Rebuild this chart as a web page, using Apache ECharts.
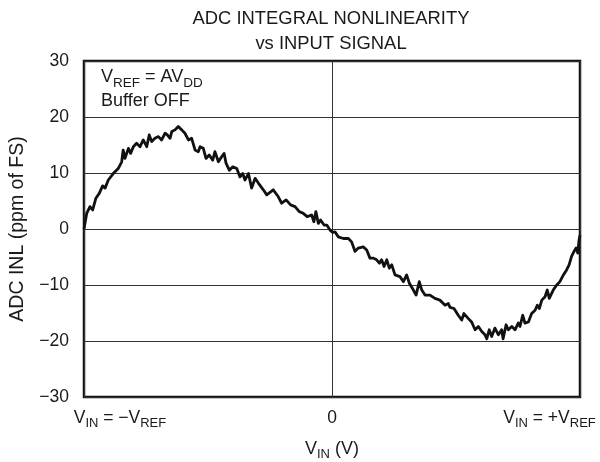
<!DOCTYPE html>
<html>
<head>
<meta charset="utf-8">
<script src="https://cdn.jsdelivr.net/npm/echarts@6/dist/echarts.min.js"></script>
<style>html,body{margin:0;padding:0;background:#fff}#c{width:600px;height:462px}</style>
</head>
<body>
<div id="c"></div>
<script>
// Input voltage as fraction of VREF (−1 … +1)
const vin = [
-1.000,-0.989,-0.976,-0.965,-0.952,-0.938,-0.925,-0.915,-0.902,-0.882,-0.862,-0.848,-0.842,-0.835,-0.821,-0.812,-0.801,-0.788,-0.774,-0.761,-0.747,-0.737,-0.727,-0.714,-0.700,-0.687,-0.673,-0.664,-0.653,-0.646,-0.633,-0.620,-0.606,-0.593,-0.579,-0.566,-0.552,-0.539,
-0.532,-0.519,-0.508,-0.495,-0.481,-0.472,-0.458,-0.445,-0.435,-0.427,-0.414,-0.400,-0.384,-0.371,-0.360,-0.351,-0.337,-0.324,-0.310,-0.297,-0.277,-0.263,-0.237,-0.217,-0.203,-0.185,-0.167,-0.149,-0.132,-0.116,-0.100,-0.082,-0.073,-0.065,-0.055,-0.046,-0.032,-0.021,-0.008,
0.003,0.012,0.025,0.046,0.066,0.079,0.093,0.106,0.126,0.140,0.153,0.167,0.180,0.191,0.200,0.210,0.221,0.231,0.241,0.254,0.274,0.288,0.301,0.312,0.328,0.339,0.352,0.362,0.375,0.395,0.415,0.435,0.456,0.469,
0.476,0.492,0.509,0.523,0.532,0.550,0.563,0.577,0.590,0.604,0.617,0.624,0.634,0.644,0.657,0.671,0.684,0.690,0.702,0.711,0.725,0.738,0.751,0.758,0.769,0.778,0.792,0.805,0.819,0.828,0.836,0.846,0.859,0.868,0.876,0.892,0.906,0.919,0.933,0.946,0.956,0.966,0.976,0.984,0.991,0.996,1.000
];
// ADC INL (ppm of FS)
const inl = [
0.0,2.8,4.0,3.4,5.5,6.4,7.7,7.3,8.75,9.9,10.8,12.0,14.1,12.6,14.4,13.5,14.7,15.3,14.7,15.9,14.7,16.8,15.6,16.2,16.5,15.9,17.1,16.8,16.2,17.4,17.7,18.3,17.7,17.1,15.9,16.2,14.1,13.8,
14.7,14.4,12.6,13.2,12.3,13.8,12.0,12.9,13.5,11.7,10.5,11.1,10.8,9.3,9.9,8.75,9.9,7.3,9.05,8.2,7.0,6.1,7.0,5.8,4.6,5.2,4.3,4.0,3.1,2.8,2.2,2.5,1.3,3.1,1.0,1.6,0.7,0.7,-0.2,
-0.6,-0.5,-1.4,-1.7,-1.7,-2.3,-4.0,-3.4,-3.2,-3.75,-5.2,-5.2,-5.5,-6.1,-5.5,-6.7,-5.5,-7.0,-6.4,-8.2,-8.5,-9.4,-8.2,-9.7,-10.9,-11.8,-9.4,-10.9,-11.8,-11.8,-12.4,-12.7,-13.6,-13.3,
-14.0,-14.2,-15.4,-16.25,-15.1,-16.0,-16.6,-18.0,-17.4,-18.3,-18.9,-19.6,-18.0,-19.2,-17.7,-18.9,-18.0,-19.6,-17.1,-18.0,-17.4,-18.0,-16.8,-17.4,-15.4,-16.8,-16.6,-15.1,-14.5,-13.6,-14.2,-12.7,-12.1,-10.9,-12.4,-10.9,-10.0,-9.4,-8.2,-7.3,-6.4,-4.9,-4.0,-3.4,-4.3,-2.0,-1.1
];
const xTickLabels = ['{m|V}{s|IN}{m| = \u2212V}{s|REF}', '{m|0}', '{m|V}{s|IN}{m| = +V}{s|REF}'];
const yTicks = [-30, -20, -10, 0, 10, 20, 30];

const FONT = '"Liberation Sans", Arial, sans-serif';
const TXT = '#1a1a1a';
function richSet(main, sub, lh) {
  return {
    m: {fontSize: main, fontFamily: FONT, color: TXT, fill: TXT, lineHeight: lh, verticalAlign: 'top'},
    s: {fontSize: sub, fontFamily: FONT, color: TXT, fill: TXT, lineHeight: lh - 6, verticalAlign: 'top', padding: [8, 0, 0, 0]}
  };
}

const chart = echarts.init(document.getElementById('c'), null, {renderer: 'canvas'});
chart.setOption({
  animation: false,
  backgroundColor: '#fff',
  grid: {left: 84, right: 20, top: 61, bottom: 65, containLabel: false, outerBoundsMode: 'none',
    show: true, borderColor: '#111', borderWidth: 2.5, backgroundColor: 'transparent'},
  xAxis: [{
    type: 'value', min: -1, max: 1, interval: 1,
    axisLine: {show: false}, axisTick: {show: false},
    splitLine: {show: true, lineStyle: {color: '#333', width: 1}},
    axisLabel: {show: false},
    name: '{m|V}{s|IN}{m| (V)}', nameLocation: 'middle', nameGap: 43,
    nameTextStyle: {rich: richSet(18, 13, 22)}
  }, {
    type: 'value', min: -1, max: 1,
    axisLine: {show: false}, axisTick: {show: false}, splitLine: {show: false},
    axisLabel: {
      show: true, margin: 12,
      customValues: [-0.855, 0, 0.877],
      formatter: function (v) { return v < -0.5 ? xTickLabels[0] : (v > 0.5 ? xTickLabels[2] : xTickLabels[1]); },
      rich: richSet(17.5, 13, 22)
    },
    position: 'bottom'
  }],
  yAxis: {
    type: 'value', min: yTicks[0], max: yTicks[yTicks.length - 1], interval: 10,
    axisLine: {show: false}, axisTick: {show: false},
    splitLine: {show: true, lineStyle: {color: '#333', width: 1}},
    axisLabel: {margin: 15, fontSize: 17.5, fontFamily: FONT, color: TXT,
      formatter: function (v) { return String(v).replace('-', '\u2212'); }},
    name: 'ADC INL (ppm of FS)', nameLocation: 'middle', nameGap: 56,
    nameTextStyle: {fontSize: 19.5, fontFamily: FONT, color: TXT}
  },
  series: [{
    type: 'line', xAxisIndex: 0,
    data: vin.map((x, i) => [x, inl[i]]),
    showSymbol: false, symbol: 'none',
    lineStyle: {color: '#111', width: 2.8, join: 'round'},
    silent: true
  }],
  graphic: [
    {type: 'text', x: 331, y: 6, style: {
      text: 'ADC INTEGRAL NONLINEARITY\nvs INPUT SIGNAL', textAlign: 'center', align: 'center',
      font: '18.4px ' + FONT, fill: TXT, lineHeight: 25}},
    {type: 'text', x: 101, y: 68, style: {
      text: '{m|V}{s|REF}{m| = AV}{s|DD}\n{m|Buffer OFF}', rich: richSet(18, 13.5, 24)}}
  ]
});
</script>
</body>
</html>
